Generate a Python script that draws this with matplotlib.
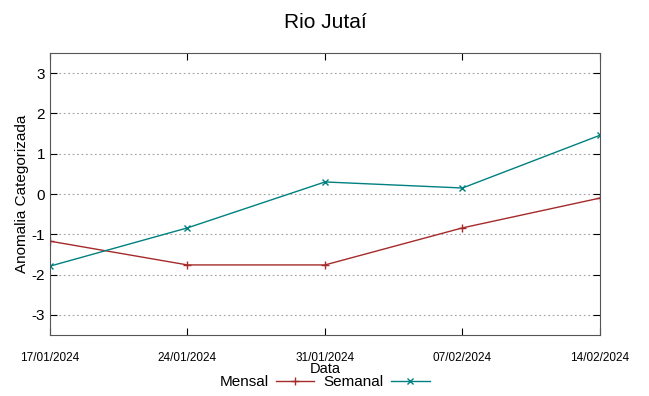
import matplotlib
matplotlib.use("Agg")
import matplotlib.pyplot as plt
from datetime import datetime

plt.rcParams['font.family'] = ['Liberation Sans', 'DejaVu Sans']
plt.rcParams['axes.unicode_minus'] = False

datas = ["17/01/2024", "24/01/2024", "31/01/2024", "07/02/2024", "14/02/2024"]
mensal = [-1.17, -1.76, -1.76, -0.84, -0.10]
semanal = [-1.79, -0.84, 0.30, 0.15, 1.46]
y_ticks = [-3, -2, -1, 0, 1, 2, 3]

x = [datetime.strptime(d, "%d/%m/%Y") for d in datas]

fig = plt.figure(figsize=(6.49, 3.96), dpi=100)
ax = fig.add_axes([0.077, 0.154, 0.8475, 0.712])

ax.plot(x, mensal, color='#a52a2a', lw=1, marker='+', ms=6, label='Mensal')
ax.plot(x, semanal, color='#008080', lw=1, marker='x', ms=5, label='Semanal')

ax.set_xlim(x[0], x[-1])
ax.set_ylim(-3.5, 3.5)
ax.set_yticks(y_ticks)
ax.set_xticks(x)
ax.set_xticklabels(datas, fontsize=8.5)
ax.tick_params(axis='y', labelsize=11, direction='in', right=True, length=5)
ax.tick_params(axis='x', direction='in', top=True, length=5, pad=12)
ax.grid(axis='y', color='#a0a0a0', linestyle=(0, (1.5, 2.5)), lw=0.8)
for s in ax.spines.values():
    s.set_color('#555555')

ax.set_title('Rio Jutaí', fontsize=15, pad=18)
ax.set_xlabel('Data', fontsize=10.5, labelpad=-1)
ax.set_ylabel('Anomalia Categorizada', fontsize=11, labelpad=2)

fig.legend(loc='center', bbox_to_anchor=(0.5, 1 - 382 / 396), ncol=2, frameon=False,
           markerfirst=False, fontsize=11, handlelength=2.5, columnspacing=0.6,
           handletextpad=0.5, borderpad=0)

fig.savefig('out.png', dpi=100)
